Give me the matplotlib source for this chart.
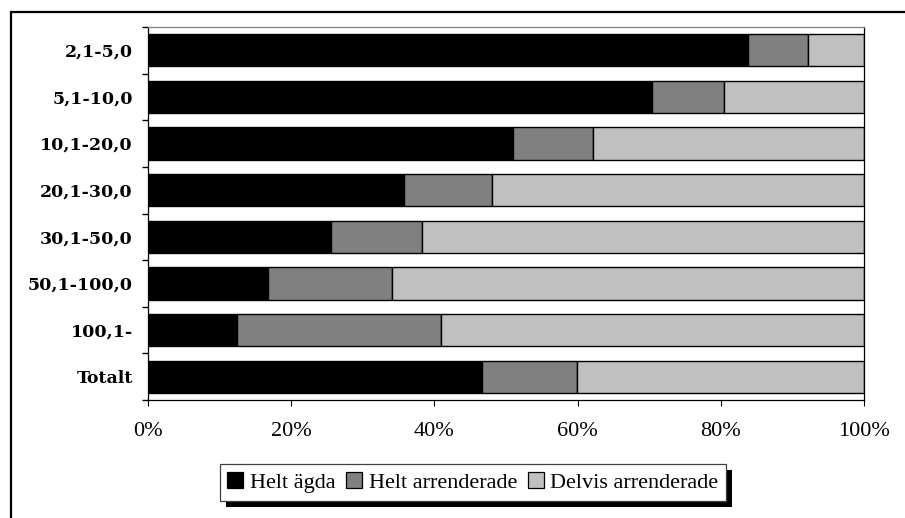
import numpy as np
import matplotlib.pyplot as plt
from matplotlib.patches import Patch, Rectangle
from matplotlib.ticker import FixedLocator, FuncFormatter

########################################################################
# Data: share of farms by size class (ha), percent

classes = ["2,1-5,0", "5,1-10,0", "10,1-20,0", "20,1-30,0",
           "30,1-50,0", "50,1-100,0", "100,1-", "Totalt"]
helt_agda = [83.8, 70.4, 51.0, 35.8, 25.5, 16.8, 12.4, 46.7]
helt_arrenderade = [8.4, 10.1, 11.2, 12.2, 12.8, 17.3, 28.5, 13.2]
delvis_arrenderade = [7.8, 19.5, 37.8, 52.0, 61.7, 65.9, 59.1, 40.1]

series = ["Helt ägda", "Helt arrenderade", "Delvis arrenderade"]
colors = ["#000000", "#808080", "#c0c0c0"]

########################################################################
# Stacked horizontal bars

fig = plt.figure(figsize=(9.05, 5.18), dpi=100)
ax = fig.add_axes([148 / 905, 1 - 400 / 518, 716 / 905, 373 / 518])

y = np.arange(len(classes))
left = np.zeros(len(classes))
for vals, col in zip([helt_agda, helt_arrenderade, delvis_arrenderade], colors):
    vals = np.array(vals)
    ax.barh(y, vals, left=left, height=0.69, color=col,
            edgecolor="black", linewidth=1.0)
    left += vals

ax.set_xlim(0, 100)
ax.set_ylim(len(classes) - 0.5, -0.5)

# category labels at bar centres, tick marks between the bars
ax.set_yticks(y)
ax.set_yticklabels(classes, fontfamily="DejaVu Serif", fontweight="bold",
                   fontsize=12.5)
ax.yaxis.set_minor_locator(FixedLocator(np.arange(-0.5, len(classes), 1.0)))
ax.tick_params(axis="y", which="major", length=0, pad=11)
ax.tick_params(axis="y", which="minor", length=4, width=1, direction="out")

ax.set_xticks(np.arange(0, 101, 20))
ax.xaxis.set_major_formatter(FuncFormatter(lambda v, p: f"{v:.0f}%"))
ax.tick_params(axis="x", length=4.5, width=0.8, direction="out", pad=11)
for lab in ax.get_xticklabels():
    lab.set_fontfamily("Liberation Serif")
    lab.set_fontsize(16)

ax.spines["top"].set_color("#808080")
for s in ["left", "bottom", "right"]:
    ax.spines[s].set_color("black")
for s in ax.spines.values():
    s.set_linewidth(0.9)

########################################################################
# Legend with a solid drop shadow

handles = [Patch(facecolor=c, edgecolor="black", linewidth=0.9) for c in colors]
leg = fig.legend(handles, series, loc="center", ncol=3,
                 bbox_to_anchor=(473 / 905, 1 - 482.5 / 518),
                 prop={"family": "Liberation Serif", "size": 16},
                 frameon=True, fancybox=False, edgecolor="#404040",
                 facecolor="white", framealpha=1.0,
                 handlelength=0.7, handleheight=0.7, handletextpad=0.3,
                 columnspacing=0.5, borderpad=0.35, borderaxespad=0)
leg.get_frame().set_linewidth(0.9)
leg.set_zorder(5)

fig.canvas.draw()
bb = leg.get_window_extent()
fig.patches.append(Rectangle((bb.x0 + 6, bb.y0 - 6), bb.width, bb.height,
                             transform=None, facecolor="black",
                             edgecolor="none", zorder=4))

# outer chart frame
fig.patches.append(Rectangle((11 / 905, -0.1), 1.2, 1 - 12 / 518 + 0.1,
                             transform=fig.transFigure, fill=False,
                             edgecolor="black", linewidth=1.6, zorder=1))

fig.savefig("out.png", dpi=100)
